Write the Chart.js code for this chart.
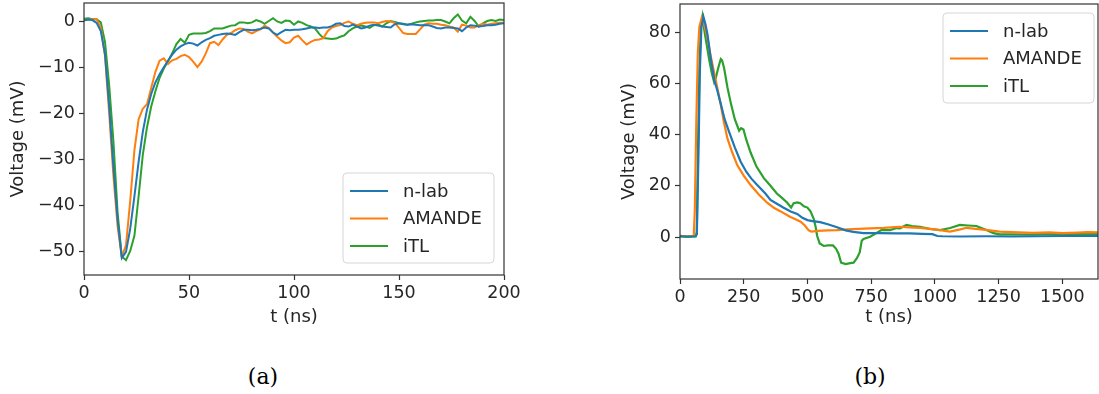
<!DOCTYPE html>
<html>
<head>
<meta charset="utf-8">
<script src="https://cdn.jsdelivr.net/npm/chart.js@4.4.0/dist/chart.umd.min.js"></script>
<style>
  body { margin: 0; background: #fff; width: 1099px; height: 394px; overflow: hidden; position: relative; }
  #wrapA { position: absolute; left: 0; top: 0; }
  #wrapB { position: absolute; left: 600px; top: 0; }
  .cap { position: absolute; top: 364px; width: 100px; text-align: center; font-family: "DejaVu Serif"; font-size: 22px; line-height: 26px; color: #000; }
</style>
</head>
<body>
<div id="wrapA"><canvas id="chartA" width="540" height="328"></canvas></div>
<div id="wrapB"><canvas id="chartB" width="499" height="328"></canvas></div>
<div class="cap" style="left:213px">(a)</div>
<div class="cap" style="left:820px">(b)</div>
<script>
// panel (a): short time window, 2 ns steps
let tA = [0, 2, 4, 6, 8, 10, 12, 14, 16, 18, 20, 22, 24, 26, 28, 30, 32, 34, 36, 38,
  40, 42, 44, 46, 48, 50, 52, 54, 56, 58, 60, 62, 64, 66, 68, 70, 72, 74, 76, 78,
  80, 82, 84, 86, 88, 90, 92, 94, 96, 98, 100, 102, 104, 106, 108, 110, 112, 114, 116, 118,
  120, 122, 124, 126, 128, 130, 132, 134, 136, 138, 140, 142, 144, 146, 148, 150, 152, 154, 156, 158,
  160, 162, 164, 166, 168, 170, 172, 174, 176, 178, 180, 182, 184, 186, 188, 190, 192, 194, 196, 198, 200];

let nlabA = [0.1, 0.3, 0.2, -0.4, -2.2, -7.2, -18.5, -31.5, -43, -51.3, -50, -45, -38, -30.5, -24, -19.2, -15.8, -13.3, -11.5, -10,
  -8.6, -7.3, -6.2, -5.5, -5, -4.7, -4.9, -5.3, -4.6, -4.1, -3.7, -3.2, -3, -2.8, -2.7, -2.8, -3, -2.4, -1.9, -1.9,
  -2, -1.9, -1.7, -1.4, -1.6, -2.5, -3, -2.4, -1.9, -2, -1.9, -1.9, -1.8, -1.6, -1.4, -1.4, -1.5, -1.4, -1.4, -1.1,
  -0.6, -0.5, -1.1, -1.2, -0.8, -1.2, -1.6, -1.4, -1, -0.8, -1, -1.2, -1.3, -1.4, -0.7, -0.5, -0.7, -0.8, -0.7, -0.8,
  -0.9, -0.9, -0.9, -1.2, -1.5, -1.6, -1.4, -1.4, -1.5, -1.6, -2.2, -1.4, -0.9, -1, -1.2, -1.1, -0.9, -0.9, -0.8, -0.6, -0.5];

let amandeA = [0.2, 0.3, 0.4, 0.4, -1.5, -7.5, -20, -33.5, -44.5, -51, -48.5, -39, -28, -21.3, -19, -18, -14.5, -11, -8.6, -8.1,
  -9.3, -8.5, -8.2, -7.6, -7.3, -7.8, -8.8, -10, -8.8, -7, -4.8, -4.5, -5.2, -4, -3, -2.6, -2, -1.6, -1.7, -2.3,
  -2.7, -2.2, -1.8, -1.0, -1.5, -2.5, -3.4, -4.2, -4.8, -4.6, -3.6, -3.2, -4.2, -5.1, -4.5, -4.1, -4, -3.7, -2.2, -1.4,
  -1.1, -0.9, -0.4, -0.1, -0.6, -0.9, -0.6, -0.4, -0.3, -0.3, -0.5, -0.2, 0, -0.1, -0.4, -1.5, -2.6, -2.8, -2.8, -2.8,
  -1.8, -0.8, -0.5, -0.6, -0.6, -0.8, -0.9, -1.2, -1.4, -2.3, -0.8, -1, -1.4, -1.4, -0.9, -0.6, -0.8, -0.6, -0.5, -0.4, -0.4];

let itlA = [0.5, 0.6, 0.4, 0.4, -0.3, -4.5, -14, -26, -41.5, -51, -51.8, -49.8, -46.5, -38, -29, -23, -18.5, -15.2, -12.3, -10.3,
  -8.7, -7, -5, -3.9, -4.7, -3, -2.7, -2.7, -2.7, -2.6, -2.2, -1.6, -1.6, -1.6, -1.3, -1, -0.9, -0.3, -0.3, -0.5,
  -0.3, 0.2, -0.1, -0.6, 0, 0.6, -0.1, -0.4, 0.1, 0, -0.8, -0.1, -0.4, -0.9, -1.2, -1.6, -2.8, -3.7, -3.8, -3.9,
  -3.8, -3.4, -3.1, -2.2, -1.6, -1.2, -1, -1.2, -1.5, -0.9, -0.7, -1.2, -0.5, 0, -0.2, -0.5, -0.6, -0.8, -0.6, -0.3,
  -0.1, 0, 0.1, 0.1, 0.2, 0.2, -0.1, -0.5, 0.6, 1.4, 0.1, -0.5, 0.9, 0, -1.2, -0.5, 0, 0.2, 0, 0.3, 0.2];

// panel (b): long time window
let tNlabB = [0, 30, 60, 66, 72, 78, 84, 92, 100, 108, 120, 135, 147, 160, 175, 193, 215, 238, 260, 280,
  303, 335, 355, 380, 405, 434, 460, 480, 500, 520, 550, 580, 616, 650, 680, 720, 780, 850, 900, 950,
  990, 1010, 1030, 1100, 1200, 1300, 1400, 1500, 1600, 1650];
let nlabB = [0.3, 0.2, 0.3, 1, 30, 65, 82, 86, 83, 79, 70, 61, 57, 52, 46, 41, 35, 29.4, 25.5, 22.8,
  20.3, 17, 14.5, 13, 11.5, 10, 9, 7.5, 6.6, 6.2, 5.8, 5, 3.8, 2.6, 2, 1.5, 1.5, 1.4, 1.4, 1.2,
  1.1, 0.4, 0.3, 0.2, 0.3, 0.2, 0.3, 0.4, 0.4, 0.5];

let tAmandeB = [0, 30, 54, 58, 64, 70, 76, 85, 95, 108, 118, 128, 144, 160, 172, 186, 205, 225, 250, 277,
  310, 343, 370, 395, 433, 447, 473, 490, 505, 515, 540, 580, 616, 660, 700, 746, 800, 860, 900, 941,
  1000, 1059, 1100, 1124, 1160, 1200, 1254, 1300, 1384, 1450, 1500, 1560, 1600, 1650];
let amandeB = [0.5, 0.3, 0.5, 10, 45, 72, 82, 85.5, 83, 77.6, 72, 67, 59.4, 51.6, 45, 38.5, 33, 28, 24, 20.3,
  16.5, 13.3, 11.3, 10, 7.8, 7.2, 6, 4.5, 2.6, 2.1, 2.4, 2.6, 2.7, 3, 3.2, 3.4, 3.6, 4, 3.8, 3.6,
  3.0, 2.1, 3.0, 3.6, 3.2, 2.8, 2.1, 1.9, 1.6, 1.8, 1.5, 1.7, 1.9, 1.8];

let tItlB = [0, 30, 62, 66, 70, 76, 82, 88, 95, 105, 115, 125, 134, 140, 150, 160, 165, 173, 186, 200,
  215, 232, 240, 249, 260, 277, 300, 329, 355, 380, 400, 420, 436, 446, 460, 472, 486, 500, 512, 525,
  532, 538, 548, 564, 580, 600, 612, 622, 632, 650, 668, 681, 694, 705, 713, 720, 746, 770, 790, 824,
  850, 863, 889, 910, 941, 980, 1020, 1060, 1098, 1130, 1163, 1202, 1230, 1254, 1300, 1384, 1450, 1500, 1560, 1600,
  1650];
let itlB = [0.2, 0, 0.2, 2, 30, 65, 82, 86, 81, 75, 69, 64, 60.5, 62, 66, 69.5, 69, 66, 58.5, 52,
  46, 41.5, 42.5, 42, 38, 33, 27.5, 23, 20, 17, 15.3, 13.5, 11.5, 13.2, 13.5, 13.2, 12, 11.5, 10, 7,
  4, 0.5, -2.5, -3.5, -3.3, -3.3, -4.5, -6.5, -10, -10.6, -10.2, -10, -8.3, -6, -1.5, -0.8, 0.1, 1.5, 2.7, 2.7,
  3.5, 3.4, 4.7, 4.3, 4, 3.2, 2.7, 3.5, 4.7, 4.5, 4.3, 2.7, 1.5, 1, 1, 0.9, 1.2, 1.0, 1.2, 1.1,
  1.2];

let ticksAX = [0, 50, 100, 150, 200];
let ticksAY = [-50, -40, -30, -20, -10, 0];
let ticksBX = [0, 250, 500, 750, 1000, 1250, 1500];
let ticksBY = [0, 20, 40, 60, 80];

let seriesNames = ['n-lab', 'AMANDE', 'iTL'];
let seriesColors = ['#1f77b4', '#ff7f0e', '#2ca02c'];

const tickFont = { family: 'DejaVu Sans', size: 17.5 };
const titleFont = { family: 'DejaVu Sans', size: 18 };
const inkColor = '#262626';

// matplotlib-like box around the axes
const frame = {
  id: 'frame',
  afterDatasetsDraw(chart) {
    let a = chart.chartArea;
    let ctx = chart.ctx;
    ctx.save();
    ctx.strokeStyle = '#333';
    ctx.lineWidth = 1.2;
    ctx.strokeRect(a.left, a.top, a.right - a.left, a.bottom - a.top);
    ctx.restore();
  }
};

// legend drawn inside the axes with a framed box
const boxLegend = {
  id: 'boxLegend',
  afterDraw(chart, args, opts) {
    let ctx = chart.ctx;
    let x = opts.x, y = opts.y, w = 151, h = 90, r = 4;
    ctx.save();
    ctx.beginPath();
    ctx.moveTo(x + r, y);
    ctx.arcTo(x + w, y, x + w, y + h, r);
    ctx.arcTo(x + w, y + h, x, y + h, r);
    ctx.arcTo(x, y + h, x, y, r);
    ctx.arcTo(x, y, x + w, y, r);
    ctx.closePath();
    ctx.fillStyle = 'rgba(255,255,255,0.85)';
    ctx.fill();
    ctx.strokeStyle = '#d6d6d6';
    ctx.lineWidth = 1;
    ctx.stroke();
    chart.data.datasets.forEach(function (ds, i) {
      let ly = y + 18 + i * 27.5;
      ctx.beginPath();
      ctx.moveTo(x + 7, ly);
      ctx.lineTo(x + 45, ly);
      ctx.strokeStyle = ds.borderColor;
      ctx.lineWidth = 2;
      ctx.stroke();
      ctx.fillStyle = inkColor;
      ctx.font = '18px "DejaVu Sans"';
      ctx.textBaseline = 'middle';
      ctx.fillText(ds.label, x + 60, ly + 1);
    });
    ctx.restore();
  }
};

function fmt(v) {
  return v < 0 ? '\u2212' + Math.abs(v) : String(v);
}

function makeChart(id, o) {
  let datasets = o.series.map(function (s, i) {
    return {
      label: seriesNames[i],
      data: s.t.map(function (t, k) { return { x: t, y: s.v[k] }; }),
      borderColor: seriesColors[i],
      borderWidth: o.lineWidth,
      pointRadius: 0,
      tension: 0,
      fill: false
    };
  });
  return new Chart(document.getElementById(id), {
    type: 'line',
    data: { datasets: datasets },
    options: {
      responsive: false,
      animation: false,
      layout: { padding: o.padding },
      plugins: {
        legend: { display: false },
        tooltip: { enabled: false },
        boxLegend: o.legend
      },
      scales: {
        x: {
          type: 'linear', min: o.xMin, max: o.xMax,
          afterBuildTicks: function (s) { s.ticks = o.xTicks.map(function (v) { return { value: v }; }); },
          afterFit: function (s) { s.height = o.xHeight; s.paddingLeft = 0; s.paddingRight = 0; },
          grid: { drawOnChartArea: false, tickLength: 5, tickColor: '#333', tickWidth: 1.2 },
          border: { display: false },
          ticks: { font: tickFont, color: inkColor, autoSkip: false, maxRotation: 0, padding: 3, callback: fmt },
          title: { display: true, text: 't (ns)', font: titleFont, color: inkColor, padding: { top: 0, bottom: 0 } }
        },
        y: {
          type: 'linear', min: o.yMin, max: o.yMax,
          afterBuildTicks: function (s) { s.ticks = o.yTicks.map(function (v) { return { value: v }; }); },
          afterFit: function (s) { s.width = o.yWidth; s.paddingTop = 0; s.paddingBottom = 0; },
          grid: { drawOnChartArea: false, tickLength: 5, tickColor: '#333', tickWidth: 1.2 },
          border: { display: false },
          ticks: { font: tickFont, color: inkColor, autoSkip: false, padding: 4, callback: fmt },
          title: { display: true, text: 'Voltage (mV)', font: titleFont, color: inkColor, padding: { top: o.yTitlePad, bottom: 0 } }
        }
      }
    },
    plugins: [frame, boxLegend]
  });
}

makeChart('chartA', {
  series: [{ t: tA, v: nlabA }, { t: tA, v: amandeA }, { t: tA, v: itlA }],
  lineWidth: 2,
  xMin: 0, xMax: 200, yMin: -55, yMax: 3.9,
  xTicks: ticksAX, yTicks: ticksAY,
  padding: { top: 3, right: 36, left: 0, bottom: 0 },
  xHeight: 53, yWidth: 84, yTitlePad: 8,
  legend: { x: 343, y: 173 }
});

makeChart('chartB', {
  series: [{ t: tNlabB, v: nlabB }, { t: tAmandeB, v: amandeB }, { t: tItlB, v: itlB }],
  lineWidth: 2.2,
  xMin: 0, xMax: 1640, yMin: -16.4, yMax: 91,
  xTicks: ticksBX, yTicks: ticksBY,
  padding: { top: 4, right: 1, left: 0, bottom: 0 },
  xHeight: 49, yWidth: 80, yTitlePad: 19,
  legend: { x: 343, y: 13 }
});
</script>
</body>
</html>
